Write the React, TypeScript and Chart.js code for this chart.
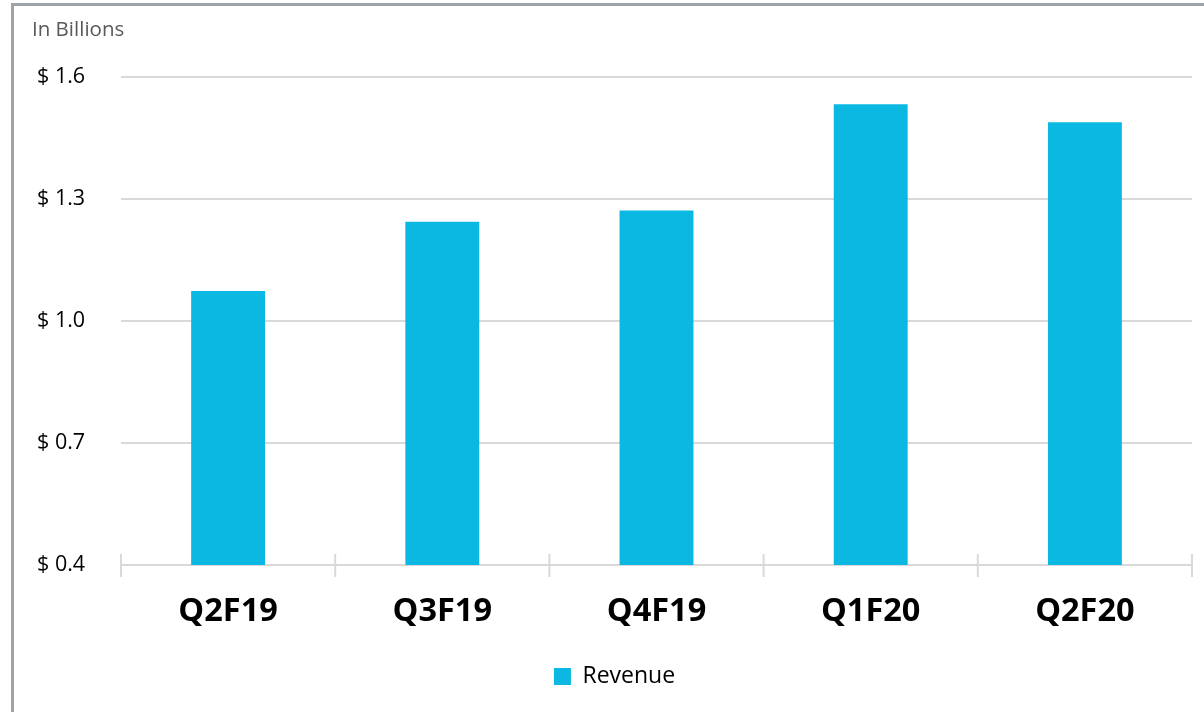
import React, { useEffect, useRef } from "react";
import { Chart, registerables } from "chart.js";

Chart.register(...registerables);

const categories: string[] = ["Q2F19", "Q3F19", "Q4F19", "Q1F20", "Q2F20"];
const revenue: number[] = [1.074, 1.244, 1.272, 1.533, 1.489];
const yTicks: number[] = [0.4, 0.7, 1.0, 1.3, 1.6];
const seriesName = "Revenue";
const unitLabel = "In Billions";

const FONT = '"Open Sans", Lato, sans-serif';
const BAR_COLOR = "#0ab8e2";
const GRID_COLOR = "#d9d9d9";

const decorPlugin = {
  id: "decor",
  afterDraw(chart: any) {
    const ctx = chart.ctx;
    const x = chart.scales.x;
    const area = chart.chartArea;
    const n = categories.length;
    const bounds: number[] = [];
    for (let i = 0; i <= n; i++) {
      bounds.push(x.getPixelForValue(i - 0.5));
    }
    ctx.save();
    ctx.strokeStyle = GRID_COLOR;
    ctx.lineWidth = 2;
    bounds.forEach((bx) => {
      ctx.beginPath();
      ctx.moveTo(bx, area.bottom - 11);
      ctx.lineTo(bx, area.bottom + 12);
      ctx.stroke();
    });
    ctx.fillStyle = "#595959";
    ctx.font = `20.5px ${FONT}`;
    ctx.textAlign = "left";
    ctx.textBaseline = "middle";
    ctx.fillText(unitLabel, 32, 30);
    ctx.restore();
  },
};

export default function App() {
  const ref = useRef<HTMLCanvasElement | null>(null);
  useEffect(() => {
    if (!ref.current) return;
    const chart = new Chart(ref.current, {
      type: "bar",
      data: {
        labels: categories,
        datasets: [
          {
            label: seriesName,
            data: revenue,
            backgroundColor: BAR_COLOR,
            borderWidth: 0,
            categoryPercentage: 1,
            barPercentage: 0.345,
          },
        ],
      },
      options: {
        animation: false,
        responsive: false,
        layout: { padding: { left: 37, right: 12, top: 77, bottom: 14 } },
        plugins: {
          legend: {
            position: "bottom",
            labels: {
              boxWidth: 17,
              boxHeight: 17,
              padding: 10,
              color: "#000",
              font: { family: FONT, size: 23 },
            },
          },
          tooltip: { enabled: false },
        },
        scales: {
          x: {
            grid: { display: false, drawTicks: false },
            border: { display: false },
            ticks: {
              color: "#000",
              padding: 27,
              font: { family: FONT, size: 32.5, weight: "bold" },
            },
            afterFit: (s: any) => {
              s.height = 90;
            },
          },
          y: {
            min: 0.4,
            max: 1.6,
            afterBuildTicks: (s: any) => {
              s.ticks = yTicks.map((v) => ({ value: v }));
            },
            grid: { color: GRID_COLOR, lineWidth: 2, drawTicks: false },
            border: { display: false },
            ticks: {
              crossAlign: "far",
              color: "#000",
              font: { family: FONT, size: 21.5 },
              callback: (v: any) => "$ " + Number(v).toFixed(1),
            },
            afterFit: (s: any) => {
              s.width = 84;
            },
          },
        },
      },
      plugins: [decorPlugin],
    });
    return () => chart.destroy();
  }, []);

  return (
    <div style={{ position: "fixed", left: 0, top: 0, width: 1204, height: 712, background: "#fff", overflow: "hidden" }}>
      <div
        style={{
          position: "absolute",
          left: 11,
          top: 3,
          width: 1204,
          height: 712,
          borderLeft: "3px solid #9ea3a7",
          borderTop: "3px solid #9ea3a7",
        }}
      />
      <canvas ref={ref} width={1204} height={712} style={{ position: "absolute", left: 0, top: 0 }} />
    </div>
  );
}
